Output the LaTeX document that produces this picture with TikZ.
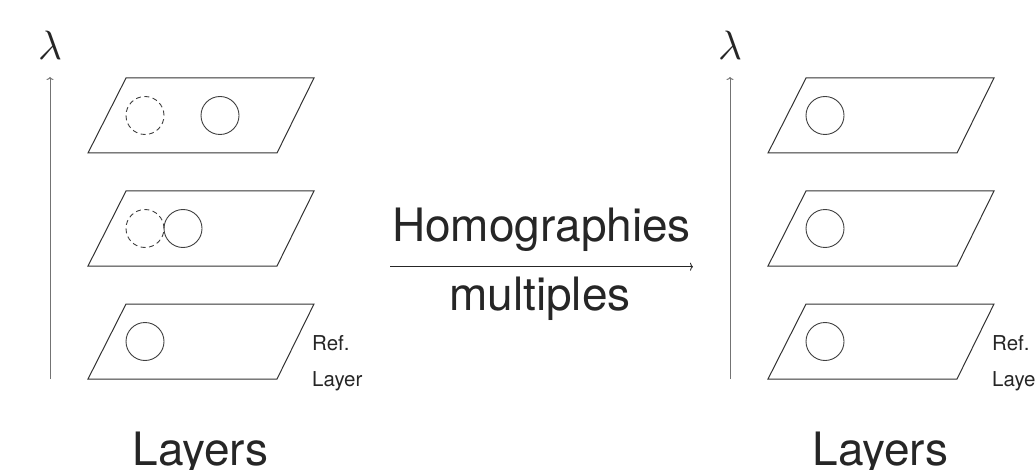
\documentclass[tikz,border=0pt]{standalone}
\usepackage{fontspec}
\setmainfont{TeX Gyre Heros}
\usetikzlibrary{arrows.meta}
\begin{document}
\begin{tikzpicture}[x=1pt,y=-1pt,
  layer/.style={draw=black!80, line width=1pt, line join=miter},
  blob/.style={circle, draw=black!75, line width=0.9pt, minimum size=38pt, inner sep=0pt, outer sep=0pt},
  ghost/.style={blob, dash pattern=on 5pt off 3.5pt},
  axis/.style={draw=black!55, line width=1pt, -{To[length=3pt,width=7pt]}},
  maparrow/.style={draw=black!85, line width=0.9pt, -{To[length=3pt,width=8pt]}},
  big/.style={font=\fontsize{46}{46}\selectfont, text=black!85, inner sep=0pt},
  small/.style={font=\fontsize{20.5}{20.5}\selectfont, text=black!85, inner sep=0pt, anchor=base west},
  lam/.style={scale=4.1, text=black!85, inner sep=0pt}
]
\useasboundingbox (0,0) rectangle (1035,470);

\foreach \side/\dx in {L/0, R/680} {
  % layers
  \foreach \k/\top in {1/78, 2/191, 3/304} {
    \draw[layer] ({88+\dx},{\top+75}) -- ++(189,0) -- ++(37,-75) -- ++(-188,0) -- cycle;
  }
  % axis
  \coordinate (\side ax0) at ({50+\dx},379);
  \coordinate (\side ax1) at ({50+\dx},77);
  \draw[axis] (\side ax0) -- (\side ax1);
  \node[lam] (\side lam) at ({50+\dx},45) {$\lambda$};
  % labels
  \node[small] (\side ref) at ({312+\dx},350) {Ref.};
  \node[small] (\side refl) at ({312+\dx},386) {Layer};
  \node[big, anchor=base] (\side layers) at ({200.5+\dx},465) {Layers};
}

% circles, left stack
\node[ghost] (La1) at (145,115.5) {};
\node[blob]  (Lb1) at (220,115.5) {};
\node[ghost] (La2) at (145,228.5) {};
\node[blob]  (Lb2) at (183,228.5) {};
\node[blob]  (Lb3) at (145,341.5) {};
% circles, right stack
\node[blob] (Rb1) at (825,115.5) {};
\node[blob] (Rb2) at (825,228.5) {};
\node[blob] (Rb3) at (825,341.5) {};

% middle mapping
\node[big, anchor=base] (homo) at (541.5,241.5) {Homographies};
\node[big, anchor=base] (mult) at (540,310) {multiples};
\coordinate (mapS) at (390,266.7);
\coordinate (mapE) at (693,266.7);
\draw[maparrow] (mapS) -- (mapE);
\end{tikzpicture}
\end{document}
